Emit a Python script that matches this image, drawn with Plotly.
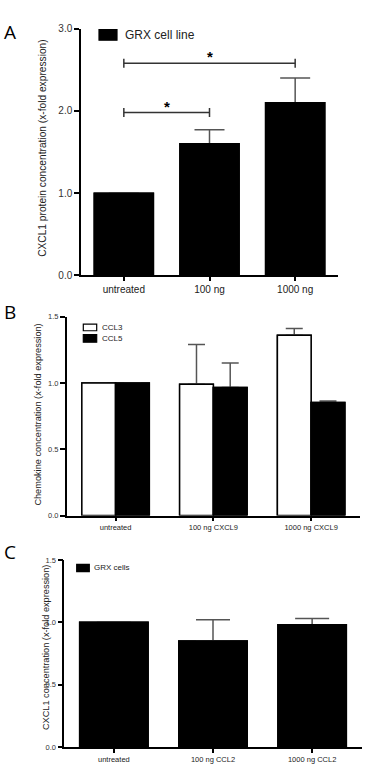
import plotly.graph_objects as go

# ---------------- data ----------------
A_categories = ["untreated", "100 ng", "1000 ng"]
A_values = [1.0, 1.6, 2.1]
A_errors = [0.0, 0.17, 0.30]
A_series = "GRX cell line"
A_comparisons = [("untreated", "100 ng", 1.98), ("untreated", "1000 ng", 2.58)]
A_ticks = [0.0, 1.0, 2.0, 3.0]

B_categories = ["untreated", "100 ng CXCL9", "1000 ng CXCL9"]
B_series = ["CCL3", "CCL5"]
B_ccl3 = [1.0, 0.99, 1.36]
B_ccl3_err = [0.0, 0.30, 0.05]
B_ccl5 = [1.0, 0.965, 0.853]
B_ccl5_err = [0.0, 0.185, 0.01]
B_ticks = [0.0, 0.5, 1.0, 1.5]

C_categories = ["untreated", "100 ng CCL2", "1000 ng CCL2"]
C_values = [1.0, 0.85, 0.98]
C_errors = [0.0, 0.17, 0.05]
C_series = "GRX cells"
C_ticks = [0.0, 0.5, 1.0, 1.5]

W, H = 387, 772
FONT = "Liberation Sans, Arial, sans-serif"
ERRC = "#555555"
BAR_W = 0.69


def px(x):
    return x / W


def py(y):
    return 1 - y / H


fig = go.Figure()


def add_bars(x, y, err, name, xa, ya, fill, lw, cap, offset=None, width=BAR_W):
    common = dict(x=x, y=y, name=name, xaxis=xa, yaxis=ya, width=width,
                  marker=dict(color=fill, line=dict(color="black", width=lw)),
                  showlegend=False)
    if offset is not None:
        common["offset"] = offset
    # first pass carries the (upward only) error bars
    fig.add_trace(go.Bar(**common, error_y=dict(
        type="data", array=err, arrayminus=[0] * len(err), symmetric=False,
        color=ERRC, thickness=1.5, width=cap)))
    # second pass redraws the bars so the lower caps are hidden under the bar outline
    fig.add_trace(go.Bar(**common, hoverinfo="skip"))


# Panel A
add_bars(A_categories, A_values, A_errors, A_series, "x", "y", "black", 1.5, 15)
# Panel B
add_bars(B_categories, B_ccl3, B_ccl3_err, B_series[0], "x2", "y2", "white", 1.5, 8.5,
         offset=-BAR_W / 2, width=BAR_W / 2)
add_bars(B_categories, B_ccl5, B_ccl5_err, B_series[1], "x2", "y2", "black", 1.5, 8.5,
         offset=0, width=BAR_W / 2)
# Panel C
add_bars(C_categories, C_values, C_errors, C_series, "x3", "y3", "black", 1.5, 17)


def xax(domain, anchor, size):
    return dict(domain=domain, anchor=anchor, type="category", range=[-0.5, 2.5],
                showline=True, linecolor="black", linewidth=1.5,
                ticks="outside", ticklen=4, tickwidth=1.5, tickcolor="black",
                showgrid=False, zeroline=False,
                tickfont=dict(family=FONT, size=size, color="#222"))


def yax(domain, anchor, rng, ticks, size):
    return dict(domain=domain, anchor=anchor, range=rng, tickvals=ticks,
                tickformat=".1f", showline=True, linecolor="black", linewidth=1.5,
                ticks="outside", ticklen=5, tickwidth=1.5, tickcolor="black",
                showgrid=False, zeroline=False,
                tickfont=dict(family=FONT, size=size, color="#333"))


fig.update_layout(
    width=W, height=H,
    margin=dict(l=0, r=0, t=0, b=0),
    paper_bgcolor="white", plot_bgcolor="white",
    barmode="overlay",
    xaxis=xax([px(81), px(338)], "y", 10),
    yaxis=yax([py(274), py(24)], "x", [0, 3], A_ticks, 10),
    xaxis2=xax([px(66.7), px(360)], "y2", 7.5),
    yaxis2=yax([py(517.3), py(315.7)], "x2", [0, 1.5], B_ticks, 7.5),
    xaxis3=xax([px(64.3), px(361.7)], "y3", 7.5),
    yaxis3=yax([py(751.7), py(562.3)], "x3", [0, 1.5], C_ticks, 7.5),
    font=dict(family=FONT, color="#222"),
)

shapes = []
annotations = []

# significance brackets (panel A)
for c0, c1, yv in A_comparisons:
    i0, i1 = A_categories.index(c0), A_categories.index(c1)
    line = dict(color="#333", width=1.5)
    shapes.append(dict(type="line", xref="x", yref="y", x0=i0, x1=i1, y0=yv, y1=yv, line=line))
    for i in (i0, i1):
        shapes.append(dict(type="line", xref="x", yref="y", x0=i, x1=i,
                           y0=yv - 0.055, y1=yv + 0.055, line=line))
    annotations.append(dict(text="<b>*</b>", xref="x", yref="y", x=(i0 + i1) / 2, y=yv,
                            yanchor="bottom", yshift=-4, showarrow=False,
                            font=dict(family=FONT, size=15, color="black")))

# legends drawn as boxes + text
legend_items = [
    (99, 117, 25, 35.7, "black", A_series, 123, 12),
    (83.3, 96.7, 323.3, 330, "white", B_series[0], 100, 8),
    (83.3, 96.7, 334, 341.7, "black", B_series[1], 100, 8),
    (76.7, 89.3, 566.7, 574, "black", C_series, 91.7, 8),
]
for x0, x1, y0, y1, fill, label, tx, fs in legend_items:
    shapes.append(dict(type="rect", xref="paper", yref="paper",
                       x0=px(x0), x1=px(x1), y0=py(y1), y1=py(y0),
                       fillcolor=fill, line=dict(color="black", width=1.2)))
    annotations.append(dict(text=label, xref="paper", yref="paper", x=px(tx),
                            y=py((y0 + y1) / 2), xanchor="left", yanchor="middle",
                            showarrow=False, font=dict(family=FONT, size=fs, color="#222")))

# y-axis titles
titles = [
    ("CXCL1 protein concentration (x-fold expression)", 41.7, 145, 10.2),
    ("Chemokine concentration (x-fold expression)", 38, 415, 9.2),
    ("CXCL1 concentration (x-fold expression)", 46, 651.5, 9.2),
]
for t, x, y, fs in titles:
    annotations.append(dict(text=t, xref="paper", yref="paper", x=px(x), y=py(y),
                            xanchor="center", yanchor="middle", textangle=-90,
                            showarrow=False, font=dict(family=FONT, size=fs, color="#222")))

# panel letters
for letter, x, y in [("A", 2, 27.5), ("B", 2, 311), ("C", 2, 554.5)]:
    annotations.append(dict(text=letter, xref="paper", yref="paper", x=px(x), y=py(y),
                            xanchor="left", yanchor="middle", showarrow=False,
                            font=dict(family="Open Sans, sans-serif", size=19, color="black")))

fig.update_layout(shapes=shapes, annotations=annotations)
fig.write_html("out.html",
               config={"displayModeBar": False},
               post_script="document.body.style.margin='0';document.body.style.overflow='hidden';")
